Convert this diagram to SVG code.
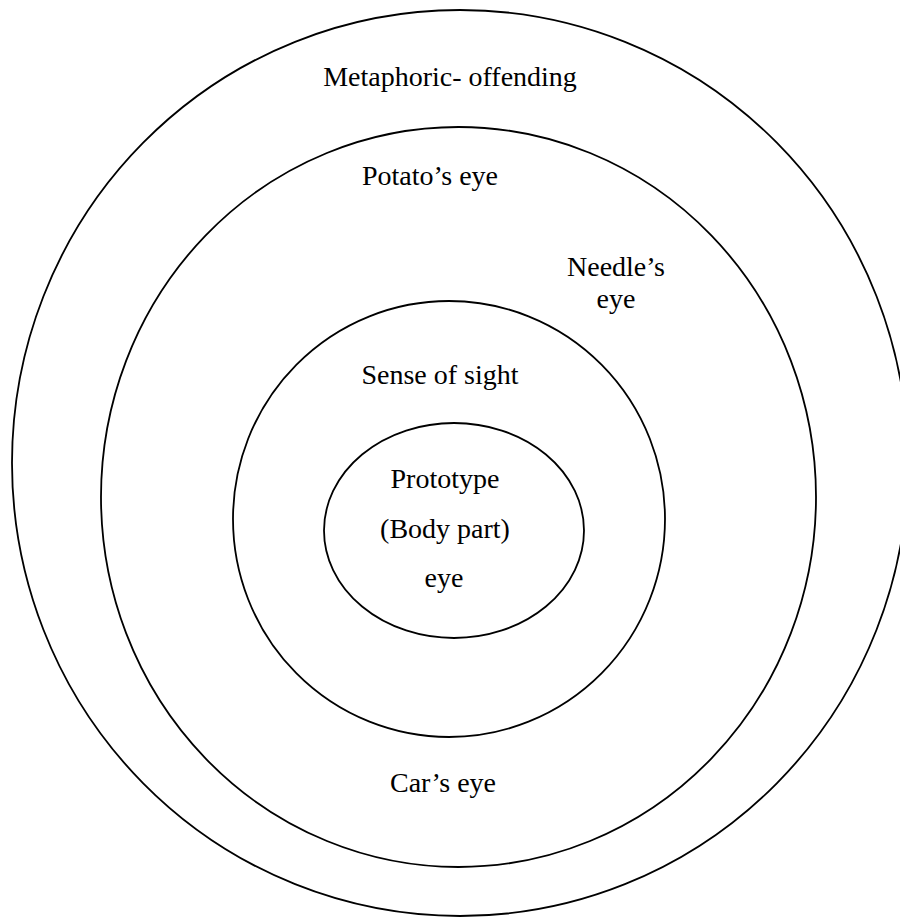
<svg xmlns="http://www.w3.org/2000/svg" width="900" height="918" viewBox="0 0 900 918">
<style>
.ring{fill:none;stroke:#000;stroke-width:1.8}
text{font-family:"Liberation Serif","Times New Roman",serif;font-size:28px;fill:#000;text-anchor:middle}
</style>
<rect width="900" height="918" fill="#fff"/>
<g id="metaphoric">
<ellipse class="ring" cx="460" cy="463" rx="448" ry="453"/>
<text x="450" y="86">Metaphoric- offending</text>
</g>
<g id="extended">
<ellipse class="ring" cx="458.5" cy="497" rx="357.5" ry="370"/>
<text x="430" y="185">Potato’s eye</text>
<text x="616" y="276">Needle’s</text>
<text x="616" y="308">eye</text>
<text x="443" y="792">Car’s eye</text>
</g>
<g id="sense">
<ellipse class="ring" cx="449" cy="519" rx="216" ry="218"/>
<text x="440" y="384">Sense of sight</text>
</g>
<g id="prototype">
<ellipse class="ring" cx="454" cy="530.5" rx="130" ry="107.5"/>
<text x="445" y="488">Prototype</text>
<text x="445" y="538">(Body part)</text>
<text x="444" y="587">eye</text>
</g>
<g id="connectors"></g>
</svg>
